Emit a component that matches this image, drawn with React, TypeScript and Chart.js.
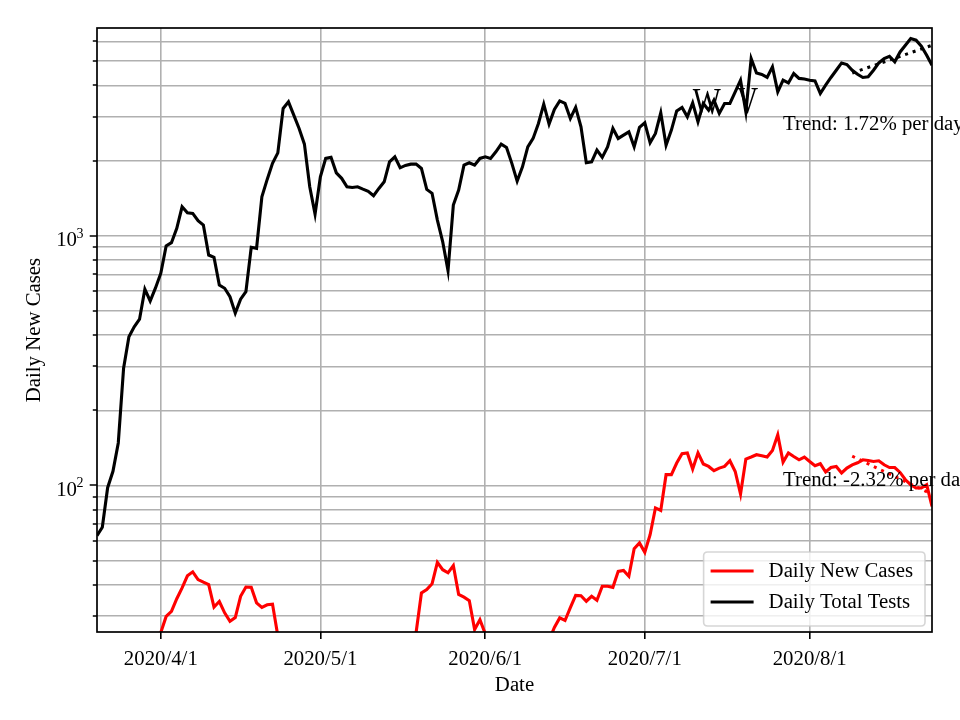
import React, { useEffect, useRef } from 'react';
import { Chart, registerables } from 'chart.js';

Chart.register(...registerables);

const FONT = '"Liberation Serif", "Times New Roman", Times, serif';
const FS = 20.8;

// x axis: day index counted from 2020/3/20
const tickDays = [12, 42, 73, 103, 134];
const tickLabels = ['2020/4/1', '2020/5/1', '2020/6/1', '2020/7/1', '2020/8/1'];

// y axis (log) grid values and labelled decades
const yGridValues = [30, 40, 50, 60, 70, 80, 90, 100, 200, 300, 400, 500, 600, 700, 800, 900, 1000, 2000, 3000, 4000, 5000, 6000];
const yMajorBases: Record<number, string> = { 100: '10', 1000: '10' };
const yMajorExponents: Record<number, string> = { 100: '2', 1000: '3' };
const yMin = 25.9;
const yMax = 6790;

const seriesNames = ['Daily New Cases', 'Daily Total Tests'];
const seriesColors = ['#ff0000', '#000000'];

const dailyTests = [
  63, 68, 98, 114, 148, 295, 394, 432, 463, 611,
  548, 618, 708, 910, 938, 1070, 1306, 1236, 1229, 1148,
  1104, 837, 820, 635, 616, 570, 490, 557, 597, 899,
  890, 1432, 1681, 1949, 2148, 3235, 3437, 3040, 2690, 2327,
  1571, 1221, 1722, 2040, 2060, 1786, 1698, 1571, 1560, 1571,
  1537, 1506, 1446, 1547, 1644, 1977, 2070, 1871, 1913, 1935,
  1935, 1860, 1533, 1479, 1155, 946, 725, 1327, 1524, 1917,
  1960, 1917, 2040, 2070, 2040, 2168, 2327, 2258, 1949, 1655,
  1887, 2270, 2453, 2817, 3365, 2800, 3206, 3467, 3387, 2950,
  3266, 2730, 1960, 1977, 2202, 2060, 2270, 2690, 2453, 2530,
  2607, 2270, 2715, 2832, 2356, 2569, 3105, 2305, 2648, 3162,
  3266, 2993, 3405, 2858, 3387, 3183, 3490, 3090, 3387, 3387,
  3767, 4197, 3134, 5125, 4487, 4423, 4303, 4745, 3767, 4197,
  4093, 4464, 4266, 4240, 4197, 4171, 3713, 4008, 4303, 4600,
  4920, 4850, 4600, 4434, 4303, 4330, 4600, 4920, 5125, 5233,
  4970, 5445, 5793, 6163, 6067, 5741, 5285, 4819,
];

const dailyCases = [
  8, 9, 11, 12, 13, 15, 16, 17, 18, 19,
  21, 22, 25.8, 29.9, 31.3, 35.2, 38.9, 43.5, 45.1, 42,
  41, 40.1, 32.6, 34.3, 30.9, 28.6, 29.6, 36, 39.2, 39.1,
  33.9, 32.5, 33.3, 33.5, 25, 22, 20, 19, 18, 17,
  16, 15, 14, 14, 13, 12, 12, 11, 11, 12,
  13, 14, 15, 16, 17, 18, 20, 21, 22, 24,
  25.8, 37.1, 38.3, 40.4, 49.2, 46, 44.7, 47.8, 36.6, 35.7,
  34.6, 26.5, 29, 25.5, 23, 21, 20, 19, 18, 18,
  19, 20, 21, 22, 23, 24, 27, 29.5, 28.8, 32.4,
  36.3, 36.2, 34.4, 36, 34.7, 39.5, 39.5, 39.1, 45.3, 45.7,
  43.3, 55.8, 58.9, 54, 63.5, 81.3, 79.4, 110.5, 110.5, 123,
  134, 135, 116.4, 135, 121.9, 119.2, 114.6, 117.4, 119.2, 125.6,
  113.8, 92.4, 127.6, 130, 132.8, 131.5, 130, 138, 159.6, 124.1,
  135, 130.6, 126.7, 130, 124.7, 120, 122.2, 113.2, 118, 119.2,
  112.2, 117.4, 121, 123.3, 126.7, 126, 124.7, 125.6, 121, 118,
  118, 112.8, 105.4, 100.7, 97.7, 97.7, 100.7, 82.4,
];

// trend lines (endpoints of fitted exponential, straight on log axis)
const testsTrendDays = [142, 157];
const testsTrendValues = [4485, 5790];
const casesTrendDays = [142, 157];
const casesTrendValues = [131, 92.2];

const trendTexts = ['Trend: 1.72% per day', 'Trend: -2.32% per day'];
const trendTextDays = [129, 129];
const trendTextValues = [2640, 99.3];

const glyphTexts = ['W', 'V'];
const glyphDays = [112.0, 120.3];
const glyphValues = [3069, 3100];

const toPoints = (xs: number[], ys: number[]) => ys.map((y, i) => ({ x: xs[i], y }));
const toSeries = (ys: number[]) => ys.map((y, i) => ({ x: i, y }));

const overlayPlugin = {
  id: 'overlay',
  afterDatasetsDraw(chart: any) {
    const ctx = chart.ctx as CanvasRenderingContext2D;
    const area = chart.chartArea;
    const xs = chart.scales.x;
    const ys = chart.scales.y;
    ctx.save();

    // frame (spines)
    ctx.strokeStyle = '#000';
    ctx.lineWidth = 1.7;
    ctx.strokeRect(area.left, area.top, area.right - area.left, area.bottom - area.top);

    // y tick marks (major / minor) and decade labels
    ctx.lineWidth = 1.6;
    ctx.beginPath();
    for (const v of yGridValues) {
      const py = Math.round(ys.getPixelForValue(v));
      const len = yMajorBases[v] ? 7.3 : 4.2;
      ctx.moveTo(area.left, py);
      ctx.lineTo(area.left - len, py);
    }
    ctx.stroke();

    ctx.fillStyle = '#000';
    ctx.textAlign = 'right';
    ctx.textBaseline = 'alphabetic';
    for (const v of yGridValues) {
      if (!yMajorBases[v]) continue;
      const py = ys.getPixelForValue(v);
      const rx = area.left - 13.5;
      ctx.font = `14px ${FONT}`;
      ctx.fillText(yMajorExponents[v], rx, py + 1.8);
      const ew = ctx.measureText(yMajorExponents[v]).width;
      ctx.font = `${FS}px ${FONT}`;
      ctx.fillText(yMajorBases[v], rx - ew + 0.5, py + 10.3);
    }

    // glyph marks
    ctx.textAlign = 'left';
    ctx.fillStyle = '#000';
    for (let i = 0; i < glyphTexts.length; i++) {
      const px = xs.getPixelForValue(glyphDays[i]);
      const py = ys.getPixelForValue(glyphValues[i]);
      ctx.save();
      ctx.translate(px, py);
      ctx.scale(0.78, 1);
      ctx.font = `38px ${FONT}`;
      ctx.fillText(glyphTexts[i], 0, 0);
      ctx.restore();
    }

    // trend texts
    ctx.fillStyle = '#000';
    ctx.font = `${FS}px ${FONT}`;
    for (let i = 0; i < trendTexts.length; i++) {
      const px = xs.getPixelForValue(trendTextDays[i]);
      const py = ys.getPixelForValue(trendTextValues[i]);
      ctx.fillText(trendTexts[i], px, py);
    }

    // legend
    ctx.font = `${FS}px ${FONT}`;
    const textW = Math.max(...seriesNames.map((n) => ctx.measureText(n).width));
    const handle = 43;
    const boxW = 7 + handle + 15 + textW + 12;
    const boxH = 74;
    const bx = area.right - 7 - boxW;
    const by = area.bottom - 6 - boxH;
    const r = 4;
    ctx.beginPath();
    ctx.moveTo(bx + r, by);
    ctx.lineTo(bx + boxW - r, by);
    ctx.quadraticCurveTo(bx + boxW, by, bx + boxW, by + r);
    ctx.lineTo(bx + boxW, by + boxH - r);
    ctx.quadraticCurveTo(bx + boxW, by + boxH, bx + boxW - r, by + boxH);
    ctx.lineTo(bx + r, by + boxH);
    ctx.quadraticCurveTo(bx, by + boxH, bx, by + boxH - r);
    ctx.lineTo(bx, by + r);
    ctx.quadraticCurveTo(bx, by, bx + r, by);
    ctx.closePath();
    ctx.fillStyle = 'rgba(255,255,255,0.8)';
    ctx.fill();
    ctx.strokeStyle = 'rgba(204,204,204,0.8)';
    ctx.lineWidth = 1.6;
    ctx.stroke();

    ctx.textBaseline = 'middle';
    for (let i = 0; i < seriesNames.length; i++) {
      const cy = by + 19 + i * 31;
      ctx.strokeStyle = seriesColors[i];
      ctx.lineWidth = 3.1;
      ctx.beginPath();
      ctx.moveTo(bx + 7, cy);
      ctx.lineTo(bx + 7 + handle, cy);
      ctx.stroke();
      ctx.fillStyle = '#000';
      ctx.fillText(seriesNames[i], bx + 7 + handle + 15, cy + 1);
    }
    ctx.restore();
  },
};

export default function App() {
  const ref = useRef<HTMLCanvasElement>(null);

  useEffect(() => {
    const canvas = ref.current;
    if (!canvas) return;
    const chart = new Chart(canvas, {
      type: 'line',
      data: {
        datasets: [
          {
            label: 'tests trend',
            data: toPoints(testsTrendDays, testsTrendValues),
            borderColor: '#000000',
            borderWidth: 3,
            borderDash: [3, 5],
            pointRadius: 0,
            fill: false,
          },
          {
            label: 'cases trend',
            data: toPoints(casesTrendDays, casesTrendValues),
            borderColor: '#ff0000',
            borderWidth: 3,
            borderDash: [3, 5],
            pointRadius: 0,
            fill: false,
          },
          {
            label: seriesNames[1],
            data: toSeries(dailyTests),
            borderColor: seriesColors[1],
            borderWidth: 3.1,
            pointRadius: 0,
            tension: 0,
            fill: false,
          },
          {
            label: seriesNames[0],
            data: toSeries(dailyCases),
            borderColor: seriesColors[0],
            borderWidth: 3.1,
            pointRadius: 0,
            tension: 0,
            fill: false,
          },
        ],
      },
      options: {
        responsive: false,
        animation: false,
        devicePixelRatio: 1,
        layout: { padding: { top: 28, right: 28, left: 0, bottom: 0 } },
        plugins: { legend: { display: false }, tooltip: { enabled: false } },
        scales: {
          x: {
            type: 'linear',
            min: 0,
            max: dailyTests.length - 1,
            afterBuildTicks: (s: any) => {
              s.ticks = tickDays.map((v) => ({ value: v }));
            },
            afterFit: (s: any) => {
              s.height = 88;
            },
            ticks: {
              autoSkip: false,
              maxRotation: 0,
              color: '#000',
              font: { family: FONT, size: FS },
              padding: 8,
              callback: (v: any) => {
                const i = tickDays.indexOf(Number(v));
                return i >= 0 ? tickLabels[i] : '';
              },
            },
            grid: { color: '#b0b0b0', lineWidth: 1.6, tickColor: '#000', tickLength: 7, drawTicks: true },
            border: { display: false },
            title: {
              display: true,
              text: 'Date',
              color: '#000',
              font: { family: FONT, size: FS },
              padding: { top: 0, bottom: 22 },
            },
          },
          y: {
            type: 'logarithmic',
            min: yMin,
            max: yMax,
            afterBuildTicks: (s: any) => {
              s.ticks = yGridValues.map((v) => ({ value: v }));
            },
            afterFit: (s: any) => {
              s.width = 97;
            },
            ticks: {
              autoSkip: false,
              color: '#000',
              font: { family: FONT, size: FS },
              padding: 7,
              callback: () => '',
            },
            grid: { color: '#b0b0b0', lineWidth: 1.6, tickColor: 'rgba(0,0,0,0)', tickLength: 7 },
            border: { display: false },
            title: {
              display: true,
              text: 'Daily New Cases',
              color: '#000',
              font: { family: FONT, size: FS },
              padding: { top: 22, bottom: 0 },
            },
          },
        },
      } as any,
      plugins: [overlayPlugin],
    });
    return () => chart.destroy();
  }, []);

  return (
    <div style={{ position: 'absolute', left: 0, top: 0, width: 960, height: 720, background: '#fff' }}>
      <canvas ref={ref} width={960} height={720} style={{ display: 'block' }} />
    </div>
  );
}
